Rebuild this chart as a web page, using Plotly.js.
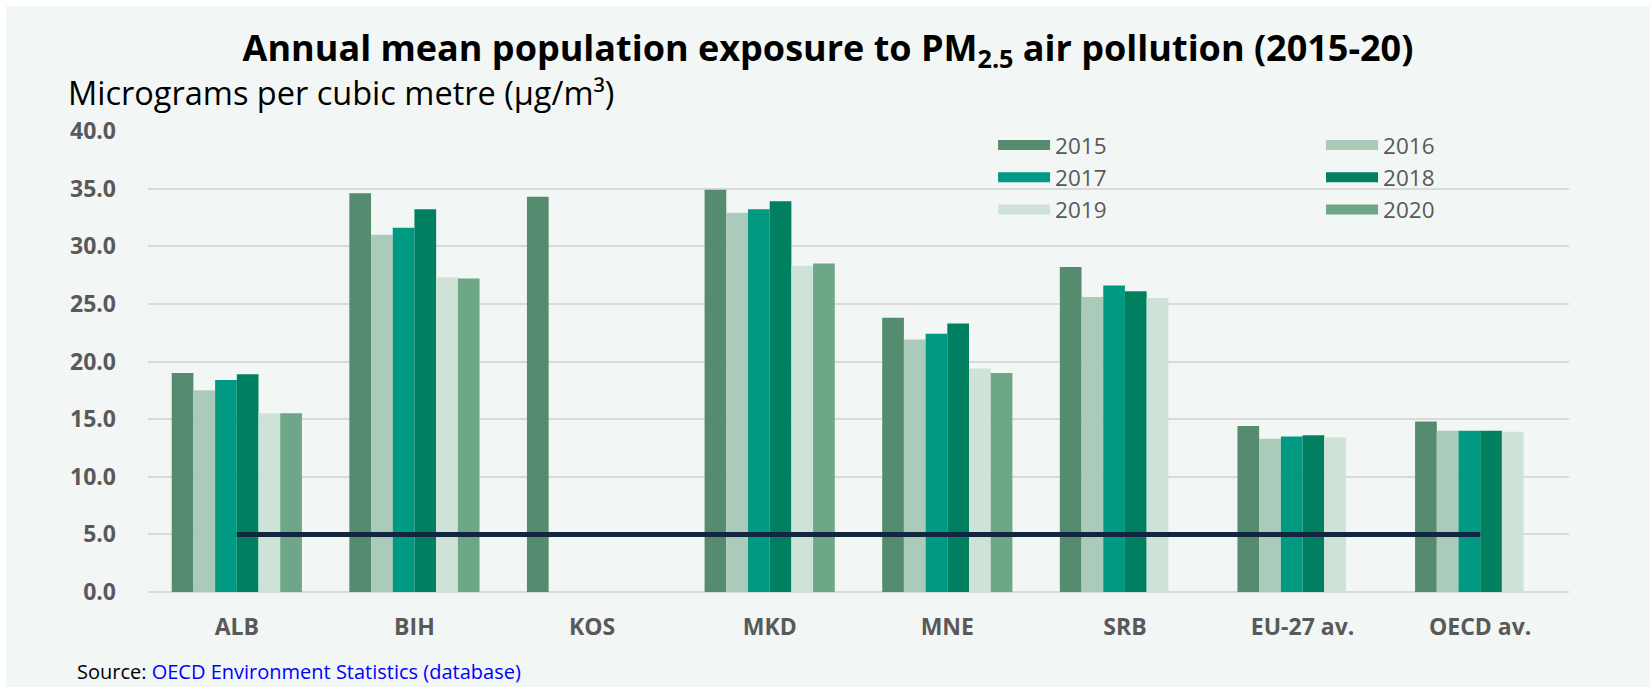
<!DOCTYPE html>
<html>
<head>
<meta charset="utf-8">
<script src="https://cdn.plot.ly/plotly-3.0.1.min.js"></script>
<style>
  html, body { margin: 0; padding: 0; background: #ffffff; }
  #chart { position: absolute; left: 6px; top: 6px; width: 1644px; height: 681px; }
</style>
</head>
<body>
<div id="chart"></div>
<script>
// ---- data ----
const categories = ["ALB", "BIH", "KOS", "MKD", "MNE", "SRB", "EU-27 av.", "OECD av."];
const years = ["2015", "2016", "2017", "2018", "2019", "2020"];
const v2015 = [19.0, 34.6, 34.3, 34.9, 23.8, 28.2, 14.4, 14.8];
const v2016 = [17.5, 31.0, null, 32.9, 21.9, 25.6, 13.3, 14.0];
const v2017 = [18.4, 31.6, null, 33.2, 22.4, 26.6, 13.5, 14.0];
const v2018 = [18.9, 33.2, null, 33.9, 23.3, 26.1, 13.6, 14.0];
const v2019 = [15.5, 27.3, null, 28.3, 19.4, 25.5, 13.4, 13.9];
const v2020 = [15.5, 27.2, null, 28.5, 19.0, null, null, null];
const whoGuideline = [5.0, 5.0, 5.0, 5.0, 5.0, 5.0, 5.0, 5.0];

const seriesValues = [v2015, v2016, v2017, v2018, v2019, v2020];
const colors = ["#558b6e", "#abcbba", "#009a82", "#008060", "#cfe2d7", "#6ea688"];
const legendFor = ["legend", "legend2", "legend", "legend2", "legend", "legend2"];

const traces = [];
years.forEach((yr, i) => {
  traces.push({
    type: "bar",
    name: yr,
    x: categories,
    y: seriesValues[i],
    marker: { color: colors[i], line: { width: 0 } },
    showlegend: false,
    hoverinfo: "skip"
  });
});
// guideline line
traces.push({
  type: "scatter",
  mode: "lines",
  x: categories,
  y: whoGuideline,
  line: { color: "#12263f", width: 5 },
  showlegend: false,
  hoverinfo: "skip"
});
// legend entries (wide swatches)
years.forEach((yr, i) => {
  traces.push({
    type: "scatter",
    mode: "lines",
    name: yr,
    x: [null],
    y: [null],
    line: { color: colors[i], width: 15 },
    legend: legendFor[i],
    showlegend: true,
    hoverinfo: "skip"
  });
});

const legendFont = { family: "Open Sans, sans-serif", size: 22.5, color: "#595959" };

const layout = {
  width: 1644,
  height: 681,
  paper_bgcolor: "#f2f7f5",
  plot_bgcolor: "#f2f7f5",
  margin: { l: 142, r: 81, t: 125, b: 95 },
  barmode: "group",
  bargap: 0.267,
  bargroupgap: 0,
  font: { family: "Open Sans, sans-serif", color: "#595959" },
  title: {
    text: "Annual mean population exposure to PM<sub>2.5</sub> air pollution (2015-20)",
    font: { family: "Open Sans, sans-serif", size: 36, color: "#000000", weight: 700 },
    x: 0.5,
    xanchor: "center",
    xref: "container",
    y: 0.938,
    yanchor: "middle",
    yref: "container"
  },
  xaxis: {
    type: "category",
    tickfont: { family: "Open Sans, sans-serif", size: 23, color: "#595959", weight: 700 },
    ticks: "",
    ticklabelstandoff: 19,
    showgrid: false,
    showline: false,
    zeroline: false,
    fixedrange: true
  },
  yaxis: {
    range: [0, 40],
    dtick: 5,
    tick0: 0,
    tickformat: ".1f",
    tickfont: { family: "Open Sans, sans-serif", size: 23, color: "#595959", weight: 700 },
    ticks: "",
    ticklabelstandoff: 31,
    showgrid: true,
    gridcolor: "#d9d9d9",
    gridwidth: 2,
    zeroline: true,
    zerolinecolor: "#d9d9d9",
    zerolinewidth: 2,
    showline: false,
    fixedrange: true
  },
  legend: {
    x: 0.5947,
    xanchor: "left",
    y: 1.0156,
    yanchor: "top",
    orientation: "v",
    bgcolor: "rgba(0,0,0,0)",
    borderwidth: 0,
    itemwidth: 52,
    font: legendFont,
    traceorder: "normal"
  },
  legend2: {
    x: 0.8255,
    xanchor: "left",
    y: 1.0156,
    yanchor: "top",
    orientation: "v",
    bgcolor: "rgba(0,0,0,0)",
    borderwidth: 0,
    itemwidth: 52,
    font: legendFont,
    traceorder: "normal"
  },
  annotations: [
    {
      text: "Micrograms per cubic metre (µg/m³)",
      xref: "paper", yref: "paper",
      x: -0.0577, y: 1.0825,
      xanchor: "left", yanchor: "middle",
      showarrow: false,
      font: { family: "Open Sans, sans-serif", size: 32.5, color: "#000000" }
    },
    {
      text: "Source: <span style=\"color:#0000ff\">OECD Environment Statistics (database)</span>",
      xref: "paper", yref: "paper",
      x: -0.0515, y: -0.1735,
      xanchor: "left", yanchor: "middle",
      showarrow: false,
      font: { family: "Open Sans, sans-serif", size: 20, color: "#000000" }
    }
  ]
};

Plotly.newPlot("chart", traces, layout, { displayModeBar: false, staticPlot: true });
</script>
</body>
</html>
